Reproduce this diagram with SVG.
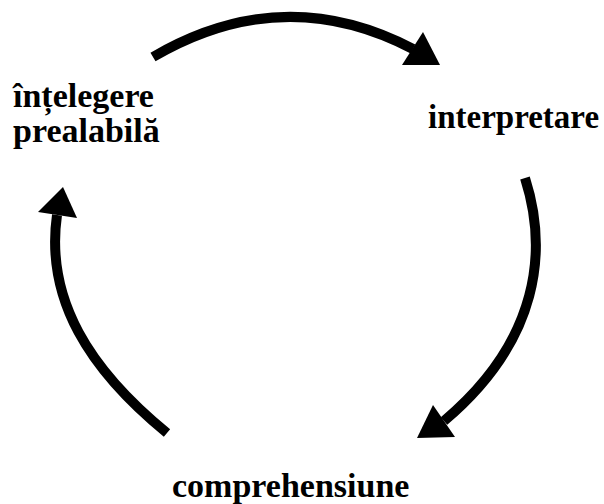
<svg xmlns="http://www.w3.org/2000/svg" width="604" height="504" viewBox="0 0 604 504">
<style>
.lbl{font-family:"Liberation Serif","Times New Roman",serif;font-weight:bold;font-size:34px;fill:#000}
.shaft{fill:none;stroke:#000;stroke-width:10}
.head{fill:#000}
</style>
<rect width="604" height="504" fill="#fff"/>
<g id="connectors">
<path class="shaft" d="M153,57 Q283,-19 413,49"/>
<polygon class="head" points="402,65 440,65 423,32"/>
<path class="shaft" d="M525,178 C548,250 540,340 444,421"/>
<polygon class="head" points="417,438 433,405 455,437"/>
<path class="shaft" d="M167,433 C90,370 45,300 57,215"/>
<polygon class="head" points="63,187 38,212 77,218"/>
</g>
<g id="node-intelegere">
<text class="lbl" x="13" y="107">înțelegere</text>
<text class="lbl" x="13" y="142">prealabilă</text>
</g>
<g id="node-interpretare">
<text class="lbl" x="428" y="128" style="font-size:33px">interpretare</text>
</g>
<g id="node-comprehensiune">
<text class="lbl" x="172" y="497">comprehensiune</text>
</g>
</svg>
